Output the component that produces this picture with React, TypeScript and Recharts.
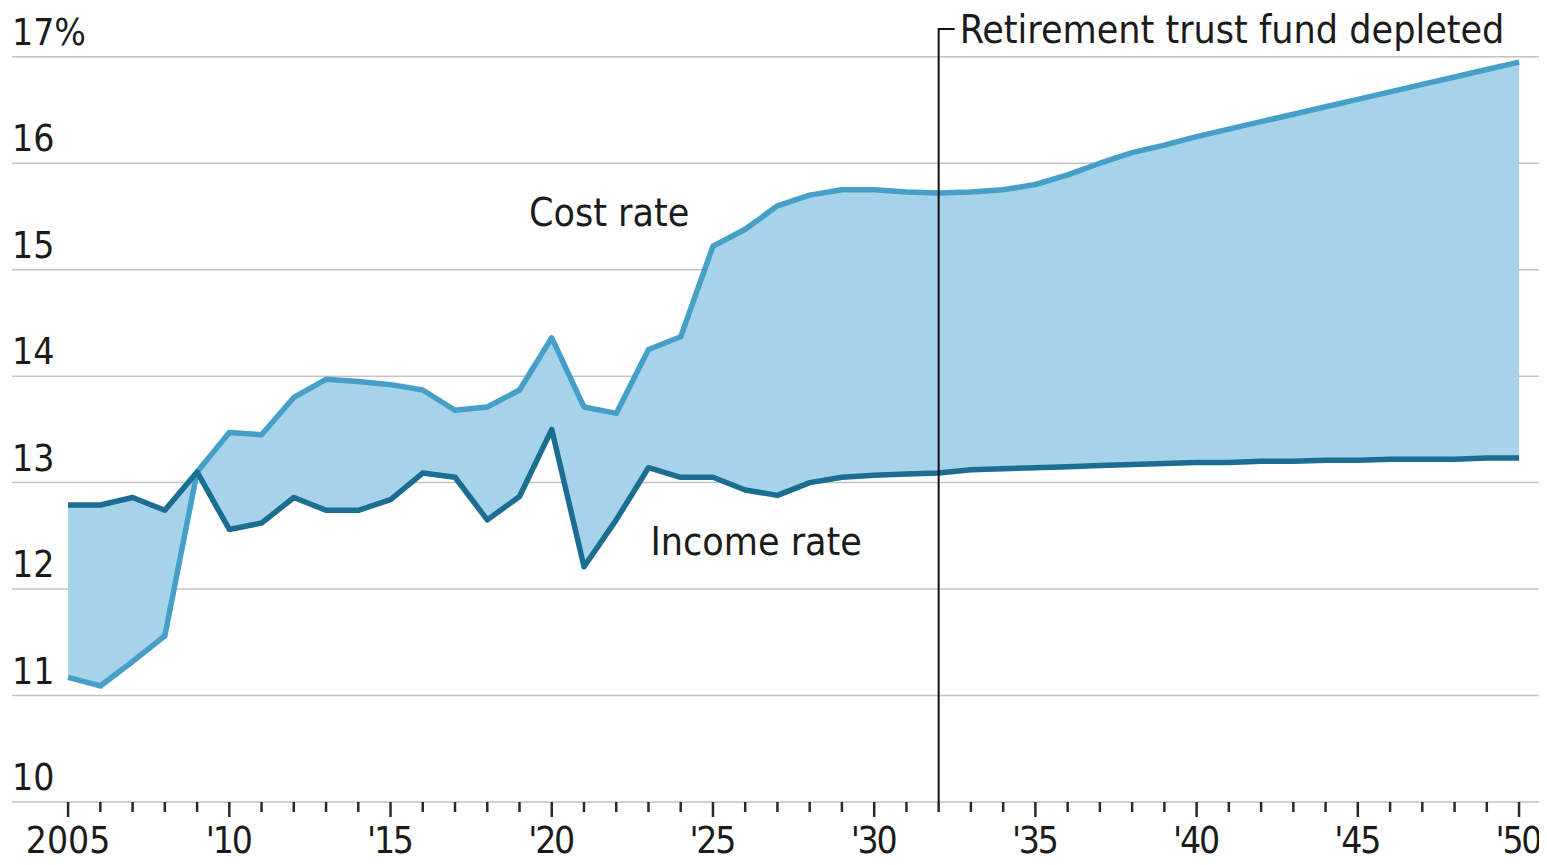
import {
  ComposedChart, Area, Line, XAxis, YAxis, CartesianGrid,
  ReferenceLine, ReferenceDot,
} from 'recharts';

const years = [
  2005, 2006, 2007, 2008, 2009, 2010, 2011, 2012, 2013, 2014,
  2015, 2016, 2017, 2018, 2019, 2020, 2021, 2022, 2023, 2024,
  2025, 2026, 2027, 2028, 2029, 2030, 2031, 2032, 2033, 2034,
  2035, 2036, 2037, 2038, 2039, 2040, 2041, 2042, 2043, 2044,
  2045, 2046, 2047, 2048, 2049, 2050,
];

const costRate = [
  11.17, 11.09, 11.32, 11.56, 13.1, 13.47, 13.45, 13.8, 13.97, 13.95,
  13.92, 13.87, 13.68, 13.71, 13.87, 14.36, 13.71, 13.65, 14.25, 14.37,
  15.22, 15.38, 15.6, 15.7, 15.75, 15.75, 15.73, 15.72, 15.73, 15.75,
  15.8, 15.89, 16.0, 16.1, 16.17, 16.25, 16.32, 16.39, 16.46, 16.53,
  16.6, 16.67, 16.74, 16.81, 16.88, 16.95,
];

const incomeRate = [
  12.79, 12.79, 12.86, 12.74, 13.1, 12.56, 12.62, 12.86, 12.74, 12.74,
  12.84, 13.09, 13.05, 12.65, 12.87, 13.5, 12.21, 12.65, 13.14, 13.05,
  13.05, 12.93, 12.88, 13.0, 13.05, 13.07, 13.08, 13.09, 13.12, 13.13,
  13.14, 13.15, 13.16, 13.17, 13.18, 13.19, 13.19, 13.2, 13.2, 13.21,
  13.21, 13.22, 13.22, 13.22, 13.23, 13.23,
];

const yTicks = [10, 11, 12, 13, 14, 15, 16, 17];
const depletedYear = 2032;

const FONT = "'Liberation Sans Narrow', 'DejaVu Sans Condensed', Roboto, sans-serif";
const INK = '#1b1b1b';

const data = years.map((year, i) => ({
  year,
  cost: costRate[i],
  income: incomeRate[i],
  band: [incomeRate[i], costRate[i]],
}));

function XTick(props: any) {
  const { x, y, payload } = props;
  const major = payload.value % 5 === 0;
  const first = payload.value === 2005;
  return (
    <g>
      <line x1={x} x2={x} y1={y} y2={y + (major ? 15 : 10)} stroke="#2a2a2a" strokeWidth={2.5} />
      {major && (
        <text
          x={x}
          y={y + 51}
          textAnchor="middle"
          fill={INK}
          fontSize={37}
          fontFamily={FONT}
          {...(first ? {} : { textLength: 47, lengthAdjust: 'spacing' })}
        >
          {first ? '2005' : `'${String(payload.value).slice(2)}`}
        </text>
      )}
    </g>
  );
}

function YTick(props: any) {
  const { y, payload } = props;
  return (
    <text x={4} y={y - 12} textAnchor="start" fill={INK} fontSize={37} fontFamily={FONT}>
      {payload.value === 17 ? '17%' : payload.value}
    </text>
  );
}

function DepletedLabel(props: any) {
  const { viewBox } = props;
  const x = viewBox.x;
  const y = viewBox.y;
  return (
    <g>
      <line x1={x} x2={x + 16} y1={y + 1} y2={y + 1} stroke="#111" strokeWidth={2} />
      <text x={x + 21} y={y + 15} fill={INK} fontSize={39} fontFamily={FONT}>
        Retirement trust fund depleted
      </text>
    </g>
  );
}

export default function App() {
  return (
    <div style={{ width: 1538, height: 857, marginBottom: -8, background: '#fff' }}>
      <ComposedChart
        width={1538}
        height={857}
        data={data}
        margin={{ top: 20, right: 6, bottom: 0, left: 3 }}
      >
        <CartesianGrid
          vertical={false}
          horizontalValues={yTicks}
          stroke="#c3c3c3"
          strokeWidth={1.5}
        />
        <XAxis
          dataKey="year"
          type="number"
          domain={[2003.26, 2050.65]}
          ticks={years}
          interval={0}
          allowDataOverflow
          axisLine={false}
          tickLine={false}
          tickSize={0}
          tickMargin={0}
          height={63}
          tick={<XTick />}
        />
        <YAxis
          type="number"
          domain={[10, 17.27]}
          ticks={yTicks}
          interval={0}
          allowDataOverflow
          axisLine={false}
          tickLine={false}
          tickSize={0}
          tickMargin={0}
          width={1}
          tick={<YTick />}
        />
        <Area
          dataKey="band"
          type="linear"
          stroke="none"
          fill="#a7d3ea"
          fillOpacity={1}
          isAnimationActive={false}
        />
        <Line
          dataKey="cost"
          type="linear"
          stroke="#459fc8"
          strokeWidth={5.5}
          dot={false}
          strokeLinejoin="round"
          isAnimationActive={false}
        />
        <Line
          dataKey="income"
          type="linear"
          stroke="#1c6d92"
          strokeWidth={5.5}
          dot={false}
          strokeLinejoin="round"
          isAnimationActive={false}
        />
        <ReferenceLine
          x={depletedYear}
          stroke="#111"
          strokeWidth={2}
          label={<DepletedLabel />}
        />
        <ReferenceDot
          x={2021.78}
          y={15.54}
          r={0}
          stroke="none"
          ifOverflow="visible"
          label={{ value: 'Cost rate', position: 'center', fill: INK, fontSize: 39, fontFamily: FONT }}
        />
        <ReferenceDot
          x={2026.34}
          y={12.45}
          r={0}
          stroke="none"
          ifOverflow="visible"
          label={{ value: 'Income rate', position: 'center', fill: INK, fontSize: 39, fontFamily: FONT }}
        />
      </ComposedChart>
    </div>
  );
}
